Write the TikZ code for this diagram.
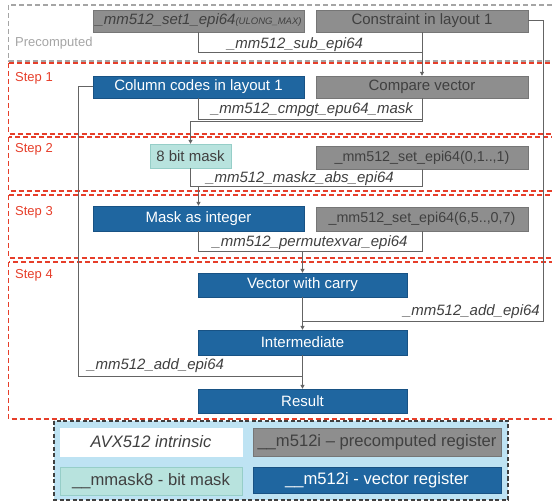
\documentclass[tikz,border=0pt]{standalone}
\usepackage{fontspec}
\setmainfont{Liberation Sans}
\usetikzlibrary{arrows.meta}

\definecolor{regblue}{RGB}{31,102,160}
\definecolor{blueedge}{RGB}{24,82,132}
\definecolor{precgray}{RGB}{142,142,142}
\definecolor{grayedge}{RGB}{118,118,118}
\definecolor{maskfill}{RGB}{184,227,222}
\definecolor{maskedge}{RGB}{150,206,200}
\definecolor{darktxt}{RGB}{64,64,64}
\definecolor{linegray}{RGB}{100,100,100}
\definecolor{stepred}{RGB}{230,62,42}
\definecolor{pregray}{RGB}{165,165,165}
\definecolor{legendbg}{RGB}{190,227,243}

\begin{document}
\begin{tikzpicture}
  [x=1pt,y=-1pt,
   box/.style={inner sep=0pt,minimum height=22pt,
     font=\fontsize{15}{18}\selectfont},
   blu/.style={box,draw=blueedge,fill=regblue,text=white},
   gry/.style={box,draw=grayedge,fill=precgray,text=darktxt},
   msk/.style={box,draw=maskedge,fill=maskfill,text=darktxt},
   lbl/.style={inner sep=0pt,text=darktxt,
     font=\fontsize{15}{18}\selectfont\itshape},
   conn/.style={draw=linegray,line width=1pt},
   arr/.style={conn,-{Triangle[length=4pt,width=4pt]}},
   stepbox/.style={draw=stepred,line width=1.4pt,
     dash pattern=on 5pt off 3pt},
   steplbl/.style={anchor=west,inner sep=0pt,text=stepred,
     font=\fontsize{13}{15}\selectfont},
   keyfont/.style={font=\fontsize{16.6}{20}\selectfont}]
  \useasboundingbox (0,0) rectangle (552,502);
  \clip (0,0) rectangle (552,502);

  % stage frames
  \draw[draw=pregray,line width=1.4pt,dash pattern=on 5pt off 3pt]
    (8.5,5) rectangle (560,61);
  \draw[stepbox] (8.5,63) rectangle (560,134);
  \draw[stepbox] (8.5,137) rectangle (560,191);
  \draw[stepbox] (8.5,195) rectangle (560,258);
  \draw[stepbox] (8.5,262) rectangle (560,419);
  \node[steplbl,text=pregray] (lpre) at (15,43) {Precomputed};
  \node[steplbl] (ls1) at (15,78) {Step 1};
  \node[steplbl] (ls2) at (15,149) {Step 2};
  \node[steplbl] (ls3) at (15,212) {Step 3};
  \node[steplbl] (ls4) at (15,275) {Step 4};

  % registers
  \node[gry,minimum width=211pt] (set1) at (198.5,21)
    {\itshape\_mm512\_set1\_epi64{\fontsize{9.5}{11}\selectfont(ULONG\_MAX)}};
  \node[gry,minimum width=212pt] (cons) at (422,21)
    {Constraint in layout 1};
  \node[blu,minimum width=211pt] (colc) at (198.5,87)
    {Column codes in layout 1};
  \node[gry,minimum width=212pt] (cmpv) at (422,87) {Compare vector};
  \node[msk,minimum width=81pt,minimum height=24pt] (mask8) at (190.5,156)
    {8 bit mask};
  \node[gry,minimum width=212pt,minimum height=23pt,
    font=\fontsize{14.3}{17}\selectfont] (set01) at (422,157.5)
    {\_mm512\_set\_epi64(0,1..,1)};
  \node[blu,minimum width=211pt,minimum height=25pt] (mint) at (198.5,218.5)
    {Mask as integer};
  \node[gry,minimum width=212pt,minimum height=24pt,
    font=\fontsize{14.3}{17}\selectfont] (set65) at (422,219)
    {\_mm512\_set\_epi64(6,5..,0,7)};
  \node[blu,minimum width=209pt,minimum height=24pt] (vwc) at (302.5,285)
    {Vector with carry};
  \node[blu,minimum width=209pt,minimum height=25pt] (intm) at (302.5,342.5)
    {Intermediate};
  \node[blu,minimum width=209pt,minimum height=24pt] (res) at (302.5,401)
    {Result};

  % joints
  \coordinate (j0) at (422,53);
  \coordinate (j1) at (422,120);
  \coordinate (j2) at (190.5,122);
  \coordinate (j3) at (422,187);
  \coordinate (j4) at (198.5,187);
  \coordinate (j5) at (422,252);
  \coordinate (j6) at (302.5,252);
  \coordinate (j7) at (543,322);
  \coordinate (j8) at (78,377);

  % intrinsics
  \draw[conn] (set1.south) |- (j0);
  \draw[arr] (cons.south) -- (cmpv.north);
  \node[lbl] (sub) at (295,45) {\_mm512\_sub\_epi64};

  \draw[conn] (colc.south) |- (j1) -- (cmpv.south);
  \draw[arr] (cmpv.south) |- (j2) -- (mask8.north);
  \node[lbl] (cmpgt) at (312,110) {\_mm512\_cmpgt\_epu64\_mask};

  \draw[conn] (mask8.south) |- (j3) -- (set01.south);
  \draw[arr] (j4) -- (mint.north);
  \node[lbl] (maskz) at (300,179) {\_mm512\_maskz\_abs\_epi64};

  \draw[conn] (mint.south) |- (j5) -- (set65.south);
  \draw[arr] (j6) -- (vwc.north);
  \node[lbl] (perm) at (310,243) {\_mm512\_permutexvar\_epi64};

  \draw[arr] (vwc.south) -- (intm.north);
  \draw[conn] (cons.east) -| (j7) -- (vwc.south |- j7);
  \node[lbl,anchor=east] (addr) at (540,312) {\_mm512\_add\_epi64};

  \draw[arr] (intm.south) -- (res.north);
  \draw[conn] (colc.west) -| (j8) -- (res.north |- j8);
  \node[lbl,anchor=west] (addl) at (87,366) {\_mm512\_add\_epi64};

  % legend
  \draw[draw=darktxt,fill=legendbg,line width=1.2pt,
    dash pattern=on 4pt off 2.5pt] (54,421) rectangle (508,500);
  \node[box,keyfont,draw=white,fill=white,text=darktxt,minimum width=182pt,
    minimum height=28pt] (kint) at (151,442) {\itshape AVX512 intrinsic};
  \node[gry,keyfont,minimum width=248pt,minimum height=28pt] (kpre)
    at (377,442) {\_\_m512i -- precomputed register};
  \node[msk,keyfont,minimum width=182pt,minimum height=28pt] (kmsk)
    at (151,481) {\_\_mmask8 - bit mask};
  \node[blu,keyfont,minimum width=248pt,minimum height=26pt] (kvec)
    at (377,480) {\_\_m512i - vector register};
\end{tikzpicture}
\end{document}
